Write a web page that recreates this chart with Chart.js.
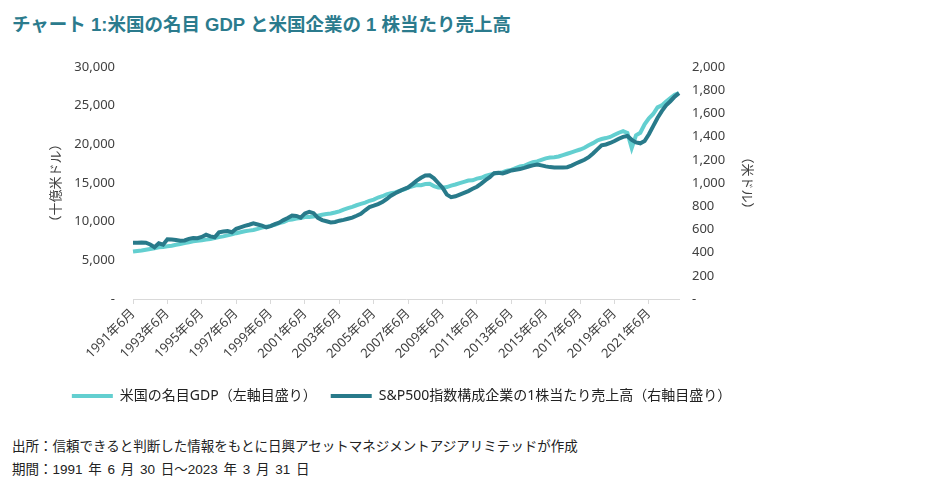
<!DOCTYPE html>
<html><head><meta charset="utf-8">
<script src="https://cdn.jsdelivr.net/npm/chart.js@4.4.1/dist/chart.umd.min.js"></script>
<style>
html,body{margin:0;padding:0;background:#fff;width:939px;height:487px;overflow:hidden;}
#title{position:absolute;left:12px;top:10px;font:bold 18.5px "Liberation Sans","Noto Sans CJK JP",sans-serif;color:#2b7b8d;white-space:nowrap;}
#wrap{position:absolute;left:0;top:0;width:939px;height:413px;}
.foot{position:absolute;left:12px;font:13.5px "Liberation Sans","Noto Sans CJK JP",sans-serif;color:#222;white-space:nowrap;}
</style></head><body>
<div id="title">チャート 1:米国の名目 GDP と米国企業の 1 株当たり売上高</div>
<div id="wrap"><canvas id="c"></canvas></div>
<div class="foot" style="top:435px">出所：信頼できると判断した情報をもとに日興アセットマネジメントアジアリミテッドが作成</div>
<div class="foot" style="top:458px;word-spacing:2px">期間：1991 年 6 月 30 日～2023 年 3 月 31 日</div>
<script>
// Quarterly categories: June 1991 to March 2023
const startYear = 1991, startMonth = 6, nQuarters = 128;
const categories = [];
for (let i = 0; i < nQuarters; i++) {
  const m = startMonth - 1 + i * 3;
  categories.push((startYear + Math.floor(m / 12)) + "年" + (m % 12 + 1) + "月");
}
const tickLabels = ["1991年6月","1993年6月","1995年6月","1997年6月","1999年6月","2001年6月","2003年6月","2005年6月","2007年6月","2009年6月","2011年6月","2013年6月","2015年6月","2017年6月","2019年6月","2021年6月"];

const seriesNames = ["米国の名目GDP（左軸目盛り）", "S&P500指数構成企業の1株当たり売上高（右軸目盛り）"];

// US nominal GDP, billions USD (left axis)
const gdp = [
  6130, 6200, 6260,
  6360, 6460, 6570, 6680,
  6730, 6810, 6890, 7010,
  7120, 7240, 7330, 7460,
  7520, 7580, 7680, 7770,
  7870, 8000, 8100, 8230,
  8360, 8510, 8640, 8750,
  8840, 8930, 9060, 9230,
  9340, 9450, 9600, 9820,
  9950, 10200, 10280, 10400,
  10470, 10600, 10600, 10660,
  10780, 10890, 10990, 11050,
  11180, 11330, 11560, 11740,
  11920, 12120, 12290, 12460,
  12700, 12860, 13120, 13290,
  13540, 13690, 13790, 13980,
  14150, 14400, 14570, 14740,
  14720, 14860, 14900, 14600,
  14410, 14390, 14470, 14670,
  14810, 14990, 15150, 15310,
  15350, 15560, 15680, 15910,
  16080, 16210, 16300, 16400,
  16600, 16700, 16910, 17130,
  17220, 17490, 17700, 17800,
  17990, 18190, 18300, 18330,
  18430, 18600, 18780, 18970,
  19150, 19330, 19560, 19880,
  20150, 20500, 20690, 20810,
  20950, 21230, 21500, 21700,
  21480, 19520, 21170, 21500,
  22600, 23370, 23920, 24780,
  25030, 25540, 25990, 26400,
  26640
];

// S&P500 sales per share, USD (right axis)
const salesPerShare = [
  485, 485, 487,
  485, 470, 446, 480,
  468, 515, 512, 508,
  502, 505, 518, 526,
  524, 535, 555, 540,
  532, 574, 582, 585,
  575, 605, 618, 630,
  640, 652, 642, 632,
  618, 628, 645, 658,
  680, 698, 720, 716,
  702, 738, 752, 740,
  700, 680, 670, 660,
  664, 675, 682, 692,
  702, 718, 735, 765,
  792, 804, 818, 836,
  862, 890, 912, 930,
  948, 962, 990, 1020,
  1045, 1065, 1066, 1040,
  1000, 960, 900, 878,
  885, 900, 915, 930,
  950, 968, 995, 1025,
  1050, 1085, 1088, 1083,
  1095, 1108, 1115, 1120,
  1130, 1142, 1152, 1160,
  1152, 1143, 1137, 1134,
  1133, 1134, 1136, 1150,
  1168, 1184, 1200, 1222,
  1255, 1290, 1325, 1332,
  1345, 1362, 1382, 1398,
  1405, 1372, 1350, 1342,
  1362, 1420, 1490, 1560,
  1620, 1670, 1705, 1745,
  1775
];

const leftTicks = {min: 0, max: 30000, step: 5000};
const rightTicks = {min: 0, max: 2000, step: 200};
const leftTitle = "（十億米ドル）";
const rightTitle = "（米ドル）";

const colGDP = "#63cfd0", colSales = "#287a8a", txt = "#404040";
const baseFont = "'Noto Sans','Noto Sans CJK JP',sans-serif";
const fmt = v => v === 0 ? "-" : v.toLocaleString("en-US");

new Chart(document.getElementById("c"), {
  type: "line",
  data: {
    labels: categories,
    datasets: [
      {label: seriesNames[0], data: gdp, yAxisID: "y", borderColor: colGDP, backgroundColor: colGDP,
       borderWidth: 4, pointRadius: 0, tension: 0, order: 1},
      {label: seriesNames[1], data: salesPerShare, yAxisID: "y1", borderColor: colSales, backgroundColor: colSales,
       borderWidth: 4, pointRadius: 0, tension: 0, order: 0}
    ]
  },
  options: {
    responsive: true, maintainAspectRatio: false, animation: false,
    layout: {padding: {top: 67, left: 44, right: 180, bottom: 0}},
    plugins: {
      tooltip: {enabled: false},
      legend: {
        position: "bottom",
        labels: {
          boxWidth: 41, boxHeight: 4, padding: 14, color: "#222",
          font: {family: baseFont, size: 14},
          sort: (a, b) => a.datasetIndex - b.datasetIndex,
          generateLabels: (chart) => Chart.defaults.plugins.legend.labels.generateLabels(chart).map(l => {
            l.fillStyle = chart.data.datasets[l.datasetIndex].borderColor; l.lineWidth = 0; l.strokeStyle = "rgba(0,0,0,0)"; return l;
          })
        }
      }
    },
    scales: {
      x: {
        type: "category",
        offset: false,
        afterFit: s => { s.height = 76; },
        border: {display: true, color: "#d9d9d9", width: 1},
        grid: {display: true, drawOnChartArea: false, drawTicks: true, tickLength: 5, color: "#d9d9d9"},
        ticks: {
          autoSkip: false, maxRotation: 45, minRotation: 45, padding: 2, color: txt,
          font: {family: baseFont, size: 13},
          callback: function(v, i) { const l = categories[i]; return tickLabels.includes(l) ? l : null; }
        }
      },
      y: {
        position: "left", min: leftTicks.min, max: leftTicks.max,
        afterFit: s => { s.width = 89; },
        border: {display: false},
        grid: {display: false, drawTicks: false},
        ticks: {stepSize: leftTicks.step, padding: 18, color: txt, font: {family: baseFont, size: 13}, callback: fmt},
        title: {display: true, text: leftTitle, color: txt, font: {family: baseFont, size: 13}, padding: {top: 4, bottom: 4}}
      },
      y1: {
        position: "right", min: rightTicks.min, max: rightTicks.max,
        afterFit: s => { s.width = 80; },
        border: {display: false},
        grid: {display: false, drawTicks: false},
        ticks: {stepSize: rightTicks.step, padding: 13, color: txt, font: {family: baseFont, size: 13}, callback: fmt},
        title: {display: true, text: rightTitle, color: txt, font: {family: baseFont, size: 13}, padding: {top: 4, bottom: 4}}
      }
    }
  }
});
</script>
</body></html>
